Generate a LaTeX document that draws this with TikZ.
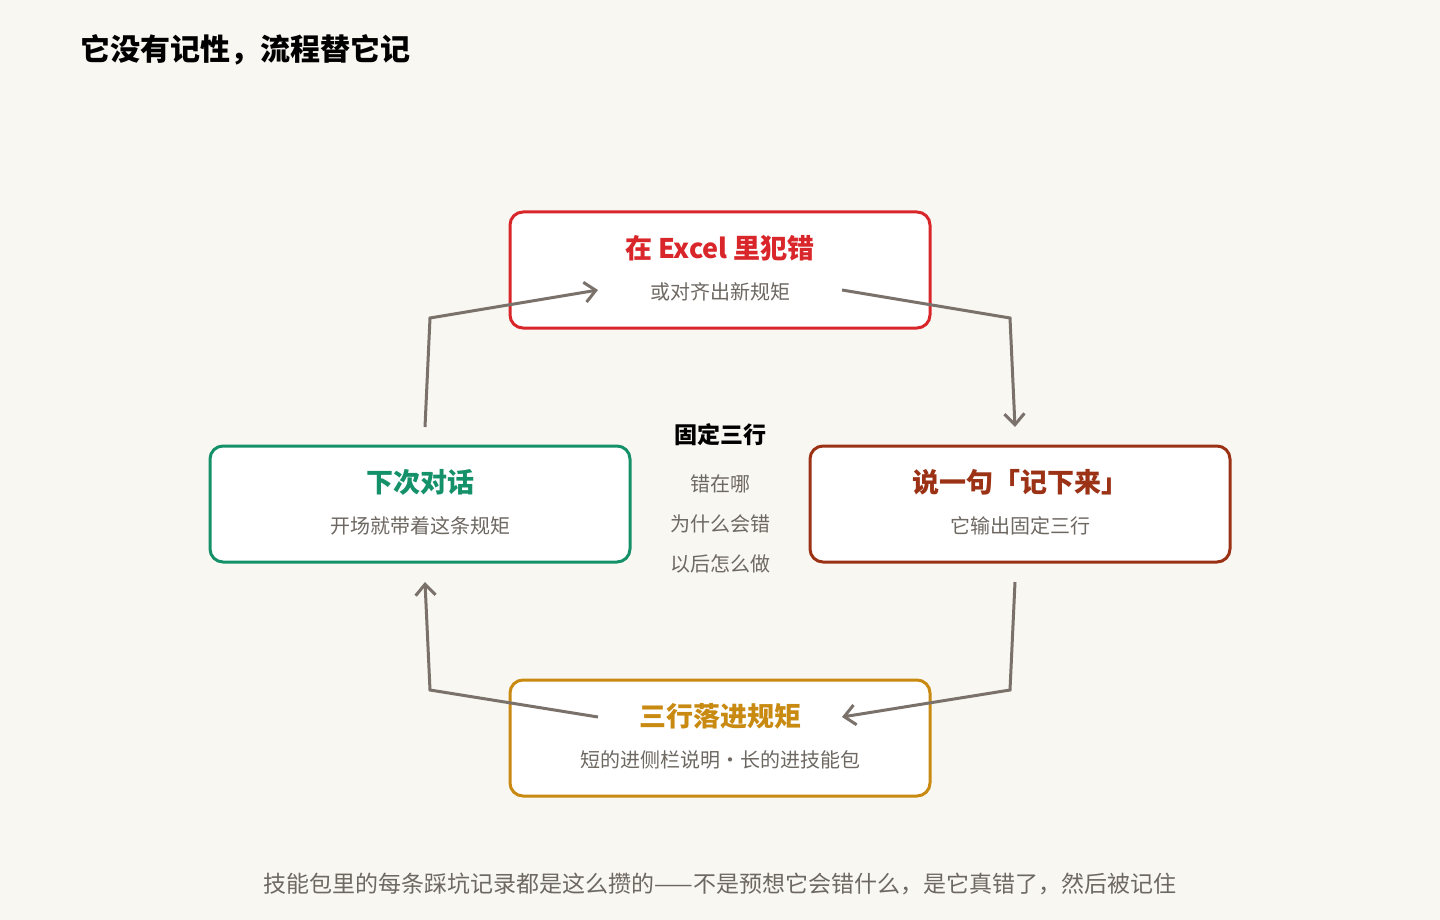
\documentclass[tikz,border=0pt]{standalone}
\usepackage{fontspec}
\setmainfont{Noto Sans CJK SC}
\usetikzlibrary{arrows.meta}
\definecolor{bg}{HTML}{F9F7F2}
\definecolor{cred}{HTML}{D9262B}
\definecolor{cgreen}{HTML}{15916A}
\definecolor{cbrown}{HTML}{9B3216}
\definecolor{cgold}{HTML}{C98A12}
\definecolor{arr}{HTML}{7A716A}
\definecolor{sub}{HTML}{6E6862}
\begin{document}
\begin{tikzpicture}[x=1pt,y=-1pt,
  box/.style={draw=#1,line width=3pt,rounded corners=13pt,fill=white,minimum width=420pt,minimum height=116pt,outer sep=0pt,anchor=north west},
  ttl/.style={font=\fontsize{27}{30}\selectfont\bfseries,text=#1},
  st/.style={font=\fontsize{20}{24}\selectfont,text=sub},
  ar/.style={draw=arr,line width=3pt,-{Straight Barb[length=11pt,width=20pt,line width=3pt]}}]
\fill[bg] (0,0) rectangle (1440,920);
\useasboundingbox (0,0) rectangle (1440,920);
\node[anchor=west,font=\fontsize{30}{34}\selectfont\bfseries,inner sep=0pt] (title) at (80,50) {它没有记性，流程替它记};
\node[box=cred] (top) at (510,212) {};
\node[box=cgreen] (left) at (210,446) {};
\node[box=cbrown] (right) at (810,446) {};
\node[box=cgold] (bot) at (510,680) {};
\node[ttl=cred] (tt) at (720,248) {在 Excel 里犯错};
\node[st] (ts) at (720,292) {或对齐出新规矩};
\node[ttl=cgreen] (lt) at (420,482) {下次对话};
\node[st] (ls) at (420,526) {开场就带着这条规矩};
\node[ttl=cbrown] (rt) at (1020,482) {说一句「记下来」};
\node[st] (rs) at (1020,526) {它输出固定三行};
\node[ttl=cgold] (bt) at (720,716) {三行落进规矩};
\node[st] (bs) at (720,760) {短的进侧栏说明·长的进技能包};
\node[font=\fontsize{23}{28}\selectfont\bfseries] (c0) at (720,435) {固定三行};
\node[st] (c1) at (720,484) {错在哪};
\node[st] (c2) at (720,524) {为什么会错};
\node[st] (c3) at (720,564) {以后怎么做};
\node[font=\fontsize{23}{26}\selectfont,text=sub] (foot) at (720,884) {技能包里的每条踩坑记录都是这么攒的——不是预想它会错什么，是它真错了，然后被记住};
\coordinate (a1) at (425,427); \coordinate (a1m) at (430,318); \coordinate (a1e) at (598,290);
\coordinate (a2) at (842,290); \coordinate (a2m) at (1010,318); \coordinate (a2e) at (1015,427);
\coordinate (a3) at (1015,582); \coordinate (a3m) at (1010,690); \coordinate (a3e) at (842,717);
\coordinate (a4) at (598,717); \coordinate (a4m) at (430,690); \coordinate (a4e) at (425,582);
\draw[ar] (a1) -- (a1m) -- (a1e);
\draw[ar] (a2) -- (a2m) -- (a2e);
\draw[ar] (a3) -- (a3m) -- (a3e);
\draw[ar] (a4) -- (a4m) -- (a4e);
\end{tikzpicture}
\end{document}
